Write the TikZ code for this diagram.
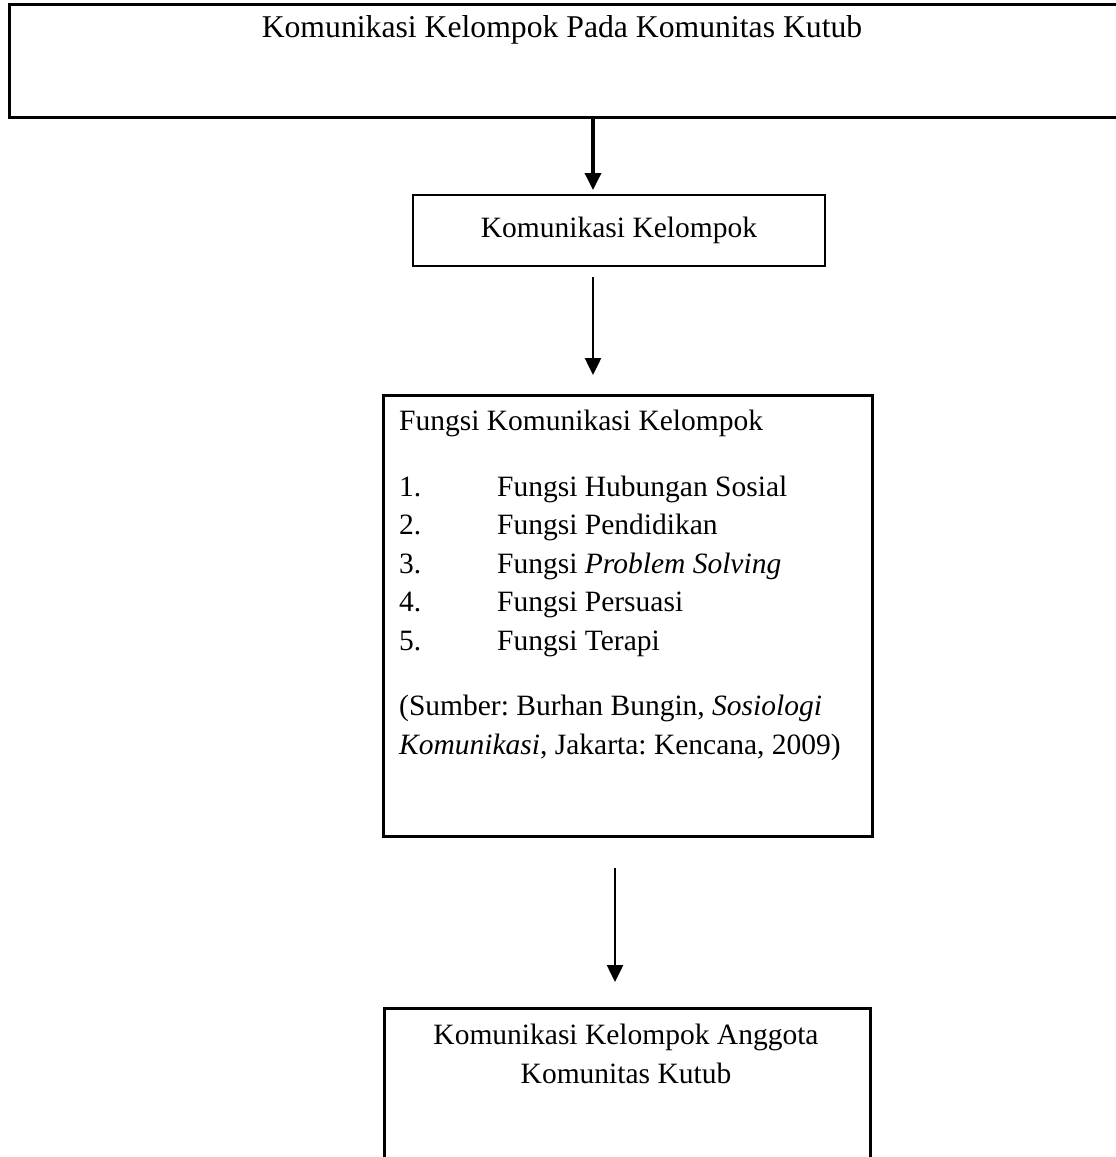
\documentclass[tikz,border=0pt]{standalone}
\usepackage{fontspec}
\setmainfont{Liberation Serif}
\usetikzlibrary{arrows.meta,positioning}
\frenchspacing

\begin{document}
\begin{tikzpicture}[x=1pt,y=-1pt,
    every node/.style={font=\fontsize{29.5}{38.5}\selectfont},
    kotak/.style={draw,line width=2.5pt,inner sep=0pt},
    teks/.style={inner sep=0pt},
    panah/.style={-{Triangle[length=17pt,width=16pt]},line width=2.5pt}]
\useasboundingbox (0,0) rectangle (1116,1157);
\clip (0,0) rectangle (1116,1157);
% kotak-kotak
\node[kotak,minimum width=1110pt,minimum height=113pt,anchor=north west] (kutub) at (8,3) {};
\node[teks,font=\fontsize{31.7}{38.5}\selectfont] (judul) at (562,30) {Komunikasi Kelompok Pada Komunitas Kutub};
\node[kotak,minimum width=412pt,minimum height=71pt] (kelompok) at (619,230.5) {Komunikasi Kelompok};
\node[kotak,minimum width=489pt,minimum height=441pt,anchor=north west] (fungsi) at (382,394) {};
\node[teks,anchor=north west,align=left] (isi) at (399,410) {Fungsi Komunikasi Kelompok\\[27pt]
    \makebox[98pt][l]{1.}Fungsi Hubungan Sosial\\
    \makebox[98pt][l]{2.}Fungsi Pendidikan\\
    \makebox[98pt][l]{3.}Fungsi \textit{Problem Solving}\\
    \makebox[98pt][l]{4.}Fungsi Persuasi\\
    \makebox[98pt][l]{5.}Fungsi Terapi\\[27pt]
    (Sumber: Burhan Bungin, \textit{Sosiologi}\\
    \textit{Komunikasi}, Jakarta: Kencana, 2009)};
\node[kotak,minimum width=486pt,minimum height=220pt,anchor=north west] (anggota) at (383,1007) {};
\node[teks,anchor=north,align=center] (anggotateks) at (626,1024) {Komunikasi Kelompok Anggota\\Komunitas Kutub};
% panah
\coordinate (p1) at (593,190);
\coordinate (p2a) at (593,277);
\coordinate (p2b) at (593,375);
\coordinate (p3a) at (615,868);
\coordinate (p3b) at (615,982);
\draw[panah,line width=3.5pt] (kutub.south -| p1) -- (p1);
\draw[panah] (p2a) -- (p2b);
\draw[panah] (p3a) -- (p3b);
\end{tikzpicture}
\end{document}
